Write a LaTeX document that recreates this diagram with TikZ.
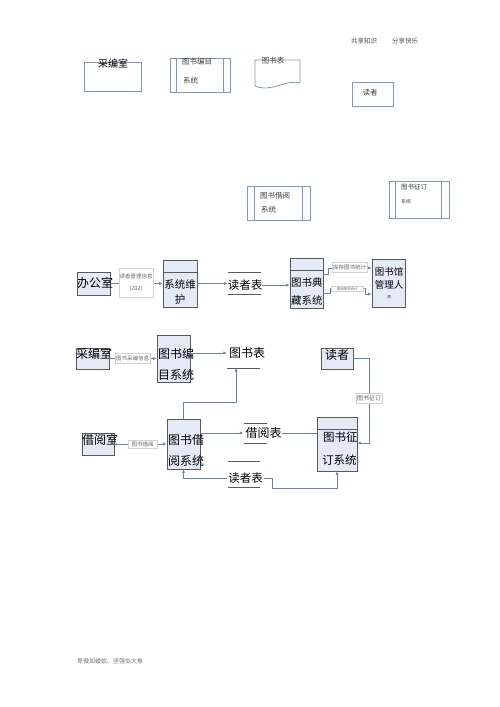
\documentclass[tikz,border=0pt]{standalone}
\usepackage{fontspec}
\setmainfont{Noto Sans CJK SC}
\usepackage{xcolor}
\usepackage{tikz}
\usetikzlibrary{arrows.meta, positioning}

\definecolor{procfill}{HTML}{E4EAF6}
\definecolor{legblue}{HTML}{7F97BB}
\definecolor{flowblue}{HTML}{6A82B2}

\tikzset{
    proc/.style={draw=black!65, fill=procfill, inner sep=0pt, line width=0.7pt},
    legend/.style={draw=legblue, inner sep=0pt, line width=0.8pt},
    note/.style={draw=black!18, fill=white, inner sep=0.6pt, text=black!60,
        font=\fontsize{5.5}{6}\selectfont},
    flow/.style={->, draw=flowblue, line width=0.6pt},
    big/.style={inner sep=0pt, font=\fontsize{11.5}{13}\selectfont},
    small/.style={inner sep=0pt, text=black!75, font=\fontsize{7.5}{8}\selectfont},
    tiny/.style={inner sep=0pt, text=black!70, font=\fontsize{6.5}{7}\selectfont},
}

\begin{document}
\begin{tikzpicture}[x=1pt, y=-1pt, >={Latex[length=3.5pt,width=3pt]}]
    \useasboundingbox (0,0) rectangle (500,707);

    % 页眉
    \node[tiny] (hd1) at (364,41) {共享知识};
    \node[tiny] (hd2) at (405,41) {分享快乐};

    % 图例
    \node[legend, minimum width=57pt, minimum height=29pt] (lcbs) at (112.5,76.5) {};
    \node[big, font=\fontsize{10}{11}\selectfont] (lcbst) at (113,64) {采编室};

    \node[legend, minimum width=60pt, minimum height=34pt] (lbm) at (200,75) {};
    \draw[legend] ([xshift=7pt]lbm.north west) -- ([xshift=7pt]lbm.south west);
    \draw[legend] ([xshift=-7pt]lbm.north east) -- ([xshift=-7pt]lbm.south east);
    \node[small, anchor=west] (lbmt1) at (182,62) {图书编目};
    \node[small, anchor=west] (lbmt2) at (183,81) {系统};

    \draw[legend] (255,60) -- (300,60) -- (300,83)
        .. controls (285,79) and (272,93) .. (255,86) -- cycle;
    \node[small] (ltsb) at (273,61) {图书表};

    \node[legend, minimum width=41pt, minimum height=24pt] (ldz) at (372.5,94) {};
    \node[small] (ldzt) at (370,93) {读者};

    \node[legend, minimum width=63pt, minimum height=34pt] (ljy) at (278.5,203) {};
    \draw[legend] ([xshift=8pt]ljy.north west) -- ([xshift=8pt]ljy.south west);
    \draw[legend] ([xshift=-8pt]ljy.north east) -- ([xshift=-8pt]ljy.south east);
    \node[small, anchor=west] (ljyt1) at (260,196) {图书借阅};
    \node[small, anchor=west] (ljyt2) at (261,210) {系统};

    \node[legend, minimum width=60pt, minimum height=37pt] (lzd) at (419,199.5) {};
    \draw[legend] ([xshift=7pt]lzd.north west) -- ([xshift=7pt]lzd.south west);
    \draw[legend] ([xshift=-8pt]lzd.north east) -- ([xshift=-8pt]lzd.south east);
    \node[small, anchor=west, font=\fontsize{6.5}{7}\selectfont] (lzdt1) at (401,187) {图书征订};
    \node[small, anchor=west, font=\fontsize{5}{6}\selectfont] (lzdt2) at (401,202) {系统};

    % 第一行
    \node[proc, minimum width=33pt, minimum height=23pt] (bgs) at (93.5,283.5) {};
    \node[big, font=\fontsize{12}{13}\selectfont] (bgst) at (95,283) {办公室};

    \node[proc, minimum width=34pt, minimum height=47pt] (wh) at (180,283.5) {};
    \draw[black!65, line width=0.7pt] ([yshift=-13pt]wh.north west) -- ([yshift=-13pt]wh.north east);
    \node[big, font=\fontsize{10.5}{12}\selectfont] (wht1) at (180,284) {系统维};
    \node[big, font=\fontsize{10.5}{12}\selectfont] (wht2) at (180,300) {护};

    \node[big] (dzb1) at (245,285) {读者表};
    \draw[black!65, line width=0.7pt] (228,272) -- (261,272) (228,294) -- (261,294);

    \node[proc, minimum width=33pt, minimum height=50pt] (dc) at (306.5,283) {};
    \draw[black!65, line width=0.7pt] ([yshift=-13pt]dc.north west) -- ([yshift=-13pt]dc.north east);
    \node[big, anchor=west, font=\fontsize{10.5}{12}\selectfont] (dct1) at (291,282) {图书典};
    \node[big, anchor=west, font=\fontsize{10.5}{12}\selectfont] (dct2) at (291,300) {藏系统};

    \node[proc, minimum width=33pt, minimum height=48pt] (gly) at (388.5,283) {};
    \node[big, font=\fontsize{9.5}{10}\selectfont] (glyt1) at (389,272) {图书馆};
    \node[big, font=\fontsize{9.5}{10}\selectfont] (glyt2) at (389,285) {管理人};
    \node[big, font=\fontsize{3.5}{4}\selectfont] (glyt3) at (389,297) {员};

    \draw[flow] (bgs.east) -- (bgs.east -| wh.west);
    \node[note, minimum width=34pt, minimum height=29pt, align=center,
        font=\fontsize{5.5}{12}\selectfont] (n1) at (136,282.5) {读者管理信息\\(202)};
    \draw[flow] (wh.east) -- (wh.east -| dzb1.west);
    \draw[flow] (dzb1.east) -- (dzb1.east -| dc.west);
    \draw[flow] ([yshift=9pt]dc.east) -- ++(5,0) |- ([yshift=15pt]gly.west);
    \node[note, minimum width=35pt, minimum height=10pt] (n2) at (349.5,267.5) {库存图书统计};
    \draw[flow] ([yshift=-10pt]dc.east) -- ++(7,0) |- (365,288) |- ([yshift=-11pt]gly.west);
    \node[note, minimum width=32pt, minimum height=5pt,
        font=\fontsize{3.5}{4}\selectfont] (n3) at (347,289) {借阅图书统计};

    % 第二行
    \node[proc, minimum width=33pt, minimum height=21pt] (cbs) at (92.5,358.5) {};
    \node[big, font=\fontsize{12}{13}\selectfont] (cbst) at (94,354) {采编室};

    \node[proc, minimum width=33pt, minimum height=47pt] (bm) at (173.5,358.5) {};
    \node[big, anchor=west, font=\fontsize{12}{13}\selectfont] (bmt1) at (158,354) {图书编};
    \node[big, anchor=west, font=\fontsize{12}{13}\selectfont] (bmt2) at (158,375) {目系统};

    \node[big, font=\fontsize{12}{13}\selectfont] (tsb) at (247,353) {图书表};
    \coordinate (tsbb) at (236,368);
    \draw[black!65, line width=0.7pt] (227,368) -- (260,368);

    \node[proc, minimum width=32pt, minimum height=21pt] (dz) at (337,358.5) {};
    \node[big, font=\fontsize{12}{13}\selectfont] (dzt) at (337,355) {读者};

    \draw[flow] (cbs.east) -- (cbs.east -| bm.west);
    \node[note, minimum width=35pt, minimum height=10pt] (n4) at (132.5,358) {图书采编信息};
    \draw[flow] (bm.east |- tsb.west) -- ([xshift=-2pt]tsb.west);

    % 第三行
    \node[proc, minimum width=32pt, minimum height=22pt] (jys) at (98,444) {};
    \node[big, font=\fontsize{12}{13}\selectfont] (jyst) at (100,440) {借阅室};

    \node[proc, minimum width=33pt, minimum height=50pt] (jy) at (183.5,444) {};
    \node[big, anchor=west, font=\fontsize{12}{13}\selectfont] (jyt1) at (168,440) {图书借};
    \node[big, anchor=west, font=\fontsize{12}{13}\selectfont] (jyt2) at (168,461) {阅系统};

    \node[big, font=\fontsize{12}{13}\selectfont] (jyb) at (263.5,433) {借阅表};
    \draw[black!65, line width=0.7pt] (244,423) -- (267,423) (244,443) -- (267,443);

    \node[proc, minimum width=40pt, minimum height=54pt] (zd) at (337,444) {};
    \draw[black!65, line width=0.7pt] ([yshift=-13pt]zd.north west) -- ([yshift=-13pt]zd.north east);
    \node[big, anchor=west] (zdt1) at (323,437) {图书征};
    \node[big, anchor=west] (zdt2) at (322,460) {订系统};

    \node[big] (dzb2) at (245.5,478) {读者表};
    \draw[black!65, line width=0.7pt] (228,461) -- (260,461) (228,487) -- (260,487);

    \draw[flow] (jys.east) -- (jys.east -| jy.west);
    \node[note, minimum width=29pt, minimum height=8pt] (n5) at (142.5,444) {图书借阅};
    \draw[flow] ([yshift=11pt]jy.east) -- ([xshift=-2pt]jyb.west);
    \draw[draw=flowblue, line width=0.6pt] (jyb.east) -- (jyb.east -| zd.west);
    \draw[flow] (jy.north) -- ++(0,-16) -| (tsbb);
    \draw[flow] (dz.east) -- ++(16,0) |- ([yshift=1pt]zd.east);
    \node[note, minimum width=26pt, minimum height=10pt,
        font=\fontsize{6}{7}\selectfont] (n6) at (369,398) {图书征订};
    \draw[flow] ([xshift=-1pt]dzb2.west) -| (jy.south);
    \draw[flow] ([xshift=1pt]dzb2.east) -- ++(8,0) -- ++(0,10) -| (zd.south);

    % 页脚
    \node[tiny, text=black!55, font=\fontsize{6}{7}\selectfont, anchor=west] (ft) at (77,661) {卑微如蝼蚁、坚强似大象};
\end{tikzpicture}
\end{document}
